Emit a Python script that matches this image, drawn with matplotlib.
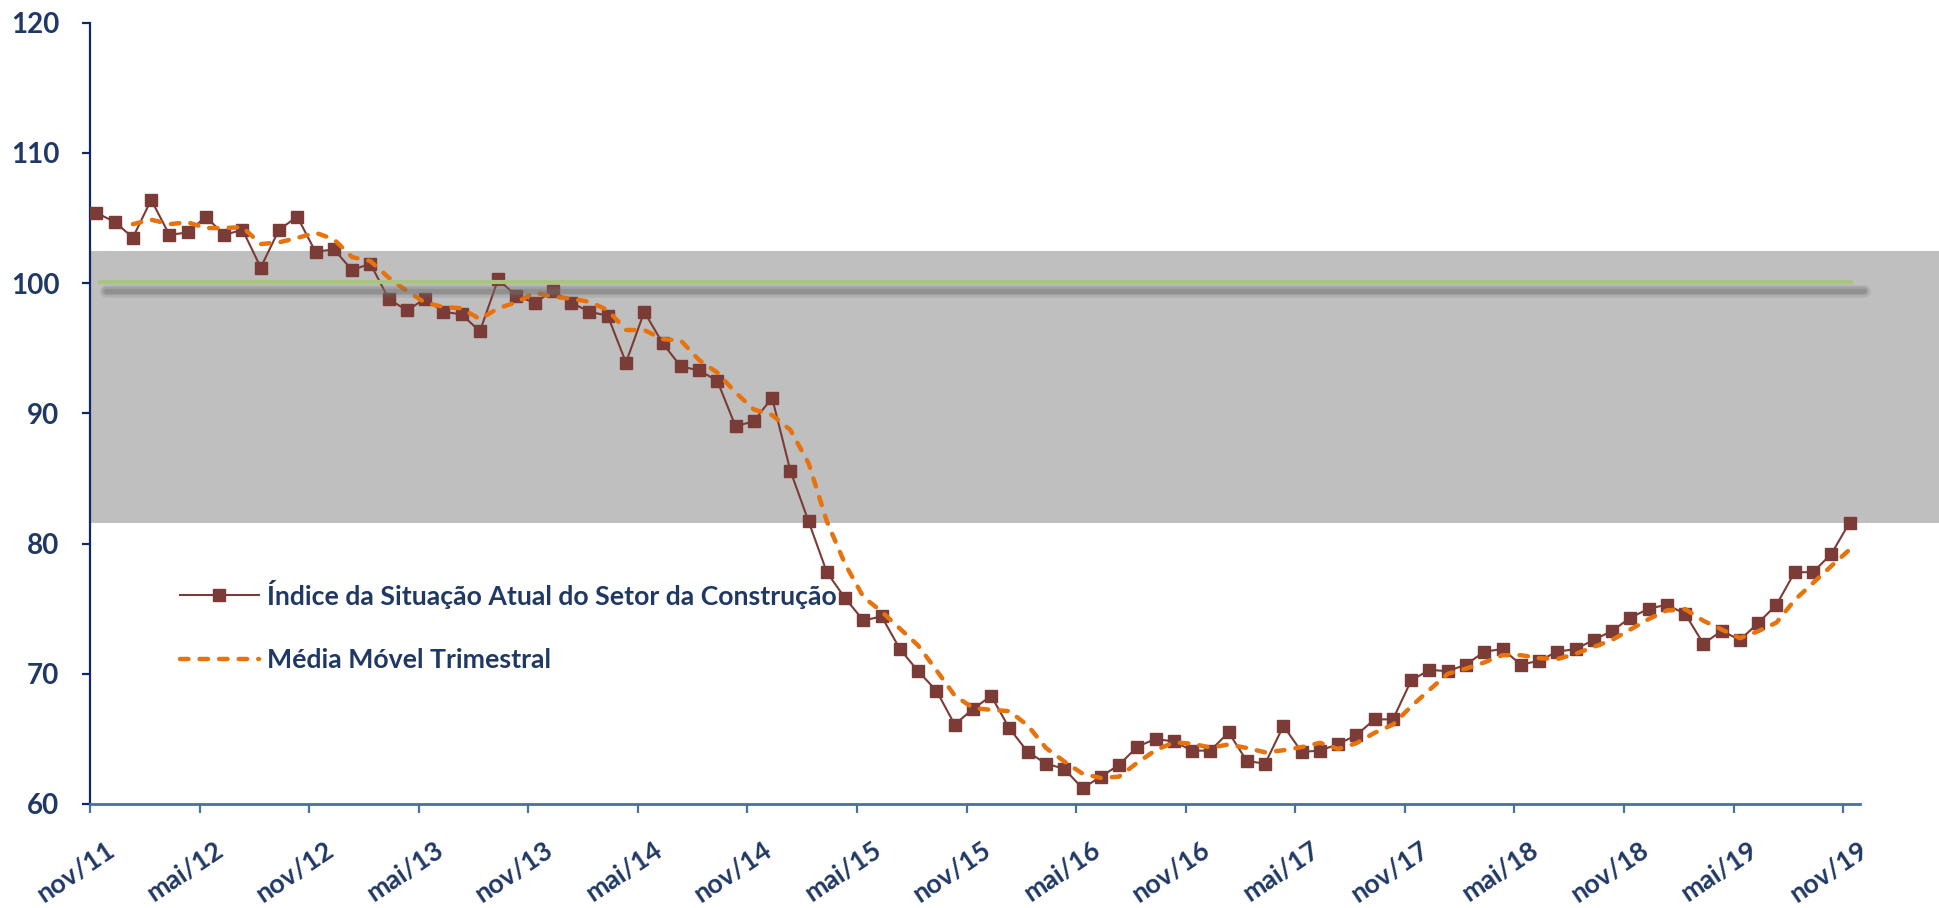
import matplotlib
matplotlib.use("Agg")
import matplotlib.pyplot as plt
import matplotlib.transforms as mtransforms
from matplotlib.lines import Line2D

# ======================= Dados =======================
TICK_LABELS = ["nov/11", "mai/12", "nov/12", "mai/13", "nov/13", "mai/14",
               "nov/14", "mai/15", "nov/15", "mai/16", "nov/16", "mai/17",
               "nov/17", "mai/18", "nov/18", "mai/19", "nov/19"]

# Índice mensal, nov/11 .. nov/19
INDICE = [
    105.4, 104.7, 103.5, 106.4, 103.7, 103.9, 105.1, 103.7, 104.1, 101.2,
    104.1, 105.1, 102.4, 102.6, 101.0, 101.5, 98.8, 97.9, 98.8, 97.8,
    97.6, 96.3, 100.3, 99.0, 98.5, 99.4, 98.5, 97.8, 97.5, 93.9,
    97.8, 95.4, 93.6, 93.3, 92.5, 89.0, 89.4, 91.2, 85.6, 81.7,
    77.8, 75.8, 74.1, 74.4, 71.9, 70.2, 68.7, 66.1, 67.3, 68.3,
    65.8, 64.0, 63.1, 62.7, 61.2, 62.1, 63.0, 64.4, 65.0, 64.8,
    64.1, 64.1, 65.5, 63.3, 63.1, 66.0, 64.0, 64.1, 64.6, 65.3,
    66.5, 66.5, 69.5, 70.3, 70.2, 70.7, 71.7, 71.9, 70.7, 71.0,
    71.7, 71.9, 72.6, 73.3, 74.3, 75.0, 75.3, 74.6, 72.3, 73.3,
    72.6, 73.9, 75.3, 77.8, 77.8, 79.2, 81.6,
]

# Média móvel trimestral, jan/12 .. nov/19
MEDIA_MOVEL = [
    104.53, 104.87, 104.53, 104.67, 104.23, 104.23, 104.3, 103.0, 103.13, 103.47,
    103.87, 103.37, 102.0, 101.7, 100.43, 99.4, 98.5, 98.17, 98.07, 97.23,
    98.07, 98.53, 99.27, 98.97, 98.8, 98.57, 97.93, 96.4, 96.4, 95.7,
    95.6, 94.1, 93.13, 91.6, 90.3, 89.87, 88.73, 86.17, 81.7, 78.43,
    75.9, 74.77, 73.47, 72.17, 70.27, 68.33, 67.37, 67.23, 67.13, 66.03,
    64.3, 63.27, 62.33, 62.0, 62.1, 63.17, 64.13, 64.73, 64.63, 64.33,
    64.57, 64.3, 63.97, 64.13, 64.37, 64.7, 64.23, 64.67, 65.47, 66.1,
    67.5, 68.77, 70.0, 70.4, 70.87, 71.43, 71.43, 71.2, 71.13, 71.53,
    72.07, 72.6, 73.4, 74.2, 74.87, 74.97, 74.07, 73.4, 72.73, 73.27,
    73.93, 75.67, 76.97, 78.27, 79.53,
]

FAIXA = (81.6, 102.5)   # faixa cinza
REFERENCIA = 100
# =====================================================

NAVY = "#1F3864"
BROWN = "#7B3B36"
ORANGE = "#E8720C"
FONT = "Lato"

x_ind = list(range(len(INDICE)))
x_mm = list(range(len(INDICE) - len(MEDIA_MOVEL), len(INDICE)))

fig = plt.figure(figsize=(19.39, 9.08), dpi=100)
ax = fig.add_axes([90 / 1939, 104 / 908, 1 - 90 / 1939, (804 - 22.7) / 908])

ax.axhspan(*FAIXA, color="#BFBFBF", zorder=0, lw=0)

ax.plot(x_ind, INDICE, color=BROWN, lw=1.5, marker="s", ms=8,
        mec=BROWN, mfc=BROWN, zorder=3)
ax.plot(x_mm, MEDIA_MOVEL, color=ORANGE, lw=3.2, dashes=(1.9, 2.5),
        dash_capstyle="round", zorder=4)

# linha de referência com sombra
for off, lw, a in [(0.62, 9, 0.18), (0.6, 6, 0.25), (0.58, 3.5, 0.3)]:
    ax.plot([0.5, 96.8], [REFERENCIA - off] * 2, color="#6f6f6f", lw=lw,
            alpha=a, solid_capstyle="round", zorder=5)
ax.plot([0.1, 96.2], [REFERENCIA + 0.05] * 2, color="#A9C47F", lw=3,
        solid_capstyle="butt", zorder=6)

ax.set_xlim(-0.33, 100.9)
ax.set_ylim(60, 120)
ax.set_yticks(range(60, 121, 10))
ax.set_xticks([i * 6 - 0.35 for i in range(len(TICK_LABELS))])
ax.set_xticklabels(TICK_LABELS, rotation=34, ha="right", va="top",
                   rotation_mode="anchor")

for s in ["top", "right"]:
    ax.spines[s].set_visible(False)
ax.spines["left"].set_color("#0E2A66")
ax.spines["left"].set_linewidth(1.6)
ax.spines["bottom"].set_color("#4A6FA3")
ax.spines["bottom"].set_linewidth(2)
ax.spines["bottom"].set_bounds(-0.33, 96.6)

ax.tick_params(axis="y", length=6, width=1.6, color="#0E2A66", pad=16,
               labelsize=20, labelcolor=NAVY)
ax.tick_params(axis="x", length=6.5, width=1.6, color="#4A6FA3", pad=17.5,
               labelsize=19.3, labelcolor=NAVY)
shift = mtransforms.ScaledTranslation(15 / 100, 0, fig.dpi_scale_trans)
for lab in ax.get_xticklabels():
    lab.set_transform(lab.get_transform() + shift)
for lab in ax.get_xticklabels() + ax.get_yticklabels():
    lab.set_fontfamily(FONT)
    lab.set_fontweight("bold")

handles = [
    Line2D([], [], color=BROWN, lw=1.5, marker="s", ms=8, mfc=BROWN, mec=BROWN),
    Line2D([], [], color=ORANGE, lw=3.2, dashes=(1.9, 2.5), dash_capstyle="round"),
]
labels = ["Índice da Situação Atual do Setor da Construção",
          "Média Móvel Trimestral"]
leg = ax.legend(handles, labels, loc="upper left",
                bbox_to_anchor=(169.3 / 1939, 1 - 569 / 908),
                bbox_transform=fig.transFigure, frameon=False,
                borderaxespad=0, handlelength=2.96, handletextpad=0.3,
                labelspacing=1.48,
                prop={"family": FONT, "weight": "bold", "size": 19.2})
for t in leg.get_texts():
    t.set_color(NAVY)

fig.savefig("out.png", dpi=100)
